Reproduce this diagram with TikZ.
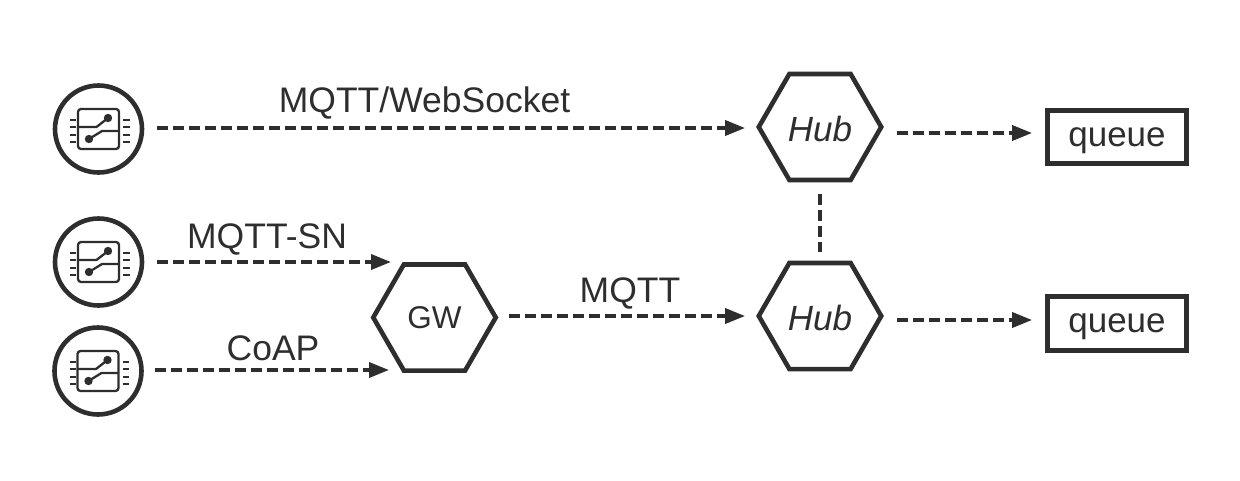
\documentclass[tikz,border=0pt]{standalone}
\usepackage{fontspec}
\setmainfont{Liberation Sans}
\usetikzlibrary{shapes.geometric,arrows.meta}
\definecolor{ink}{HTML}{2E2E2E}
\tikzset{
  txt/.style={inner sep=0pt,text=ink,font=\fontsize{35.5}{40}\selectfont},
  hexa/.style={regular polygon,regular polygon sides=6,draw=ink,line width=4.6pt,minimum size=122.5pt,inner sep=0pt,text=ink,font=\fontsize{31.5}{40}\selectfont},
  hubtxt/.style={font=\fontsize{35}{40}\selectfont\itshape,text height=29.5pt},
  queuebox/.style={rectangle,draw=ink,line width=4.8pt,minimum width=139pt,minimum height=53.5pt,inner sep=0pt,text=ink,text depth=0pt,font=\fontsize{35}{40}\selectfont},
  sensor/.style={circle,draw=ink,line width=4.6pt,minimum size=87pt,inner sep=0pt},
  flow/.style={draw=ink,line width=3.6pt,dash pattern=on 11pt off 5pt,-{Triangle[length=20pt,width=15pt]}},
  link/.style={draw=ink,line width=3.6pt,dash pattern=on 11pt off 5pt},
  chipline/.style={draw=ink,line width=2.3pt},
  chippin/.style={draw=ink,line width=2.2pt},
}
\newcommand{\chipicon}[2]{%
  \begin{scope}[shift={(#1,#2)}]
    \draw[chipline,rounded corners=3pt] (-20.5,-20) rectangle (20.5,20);
    \draw[chipline] (-20.5,-2) -- (-2,-2) -- (9.5,-11);
    \draw[chipline] (20.5,2) -- (3.5,2) -- (-9.5,10);
    \fill[ink] (9.5,-11) circle (4.2);
    \fill[ink] (-9.5,10) circle (4.2);
    \foreach \yy in {-9,-2,6,13}{
      \draw[chippin] (-28.5,\yy) -- (-22.5,\yy);
      \draw[chippin] (24.5,\yy) -- (31,\yy);
    }
  \end{scope}}
\begin{document}
\begin{tikzpicture}[x=1pt,y=-1pt]
\useasboundingbox (0,0) rectangle (1240,480);
\node[sensor] (s1) at (98.5,129) {};
\node[sensor] (s2) at (98.5,262) {};
\node[sensor] (s3) at (98,371) {};
\chipicon{98.5}{129}
\chipicon{98.5}{262}
\chipicon{98}{371}
\node[hexa] (gw) at (434.5,317.5) {GW};
\node[hexa,hubtxt] (h1) at (820,127) {Hub};
\node[hexa,hubtxt] (h2) at (820,316) {Hub};
\node[queuebox] (q1) at (1117,137) {queue};
\node[queuebox] (q2) at (1117,323.5) {queue};
\draw[flow,shorten <=13pt,shorten >=11pt] (s1.east |- 0,128) -- (h1.west |- 0,128);
\draw[flow,shorten <=13pt] (s2.east |- 0,262) -- (391,262);
\draw[flow,shorten <=11pt] (s3.east |- 0,370) -- (389,370);
\draw[flow,shorten <=11pt,shorten >=11pt] (gw.east |- 0,316) -- (h2.west |- 0,316);
\draw[flow,shorten <=13pt,shorten >=13pt] (h1.east |- 0,133) -- (q1.west |- 0,133);
\draw[flow,shorten <=13pt,shorten >=13pt] (h2.east |- 0,320) -- (q2.west |- 0,320);
\draw[link,shorten <=12pt,shorten >=9pt] (h1.south) -- (h2.north);
\node[txt] (l1) at (424.5,103) {MQTT/WebSocket};
\node[txt] (l2) at (267,239) {MQTT-SN};
\node[txt] (l3) at (273,348) {CoAP};
\node[txt] (l4) at (630,293) {MQTT};
\end{tikzpicture}
\end{document}
